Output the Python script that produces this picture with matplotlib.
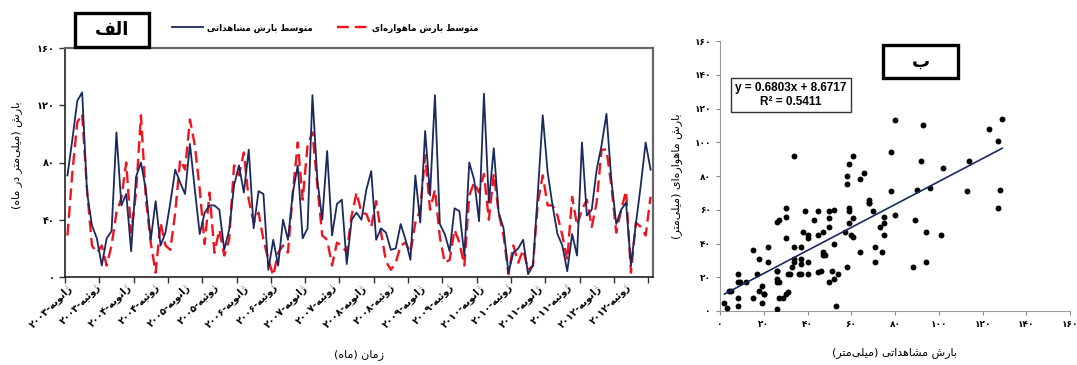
import re

import matplotlib
matplotlib.use("Agg")
import matplotlib.pyplot as plt
from matplotlib.lines import Line2D
from matplotlib.patches import Rectangle

# monthly mean precipitation, Jan 2003 .. Dec 2012 (one row per year)
OBSERVED = [
    71, 96, 123, 129, 59, 36, 27, 8, 27, 32, 101, 50,
    58, 18, 70, 80, 61, 26, 53, 22, 31, 52, 75, 66,
    58, 93, 61, 30, 45, 50, 50, 47, 19, 33, 64, 78,
    59, 89, 34, 60, 58, 5, 26, 8, 40, 26, 59, 78,
    27, 34, 127, 68, 40, 88, 29, 51, 54, 9, 40, 45,
    40, 61, 74, 26, 34, 31, 19, 20, 37, 26, 12, 71,
    38, 102, 57, 127, 37, 30, 18, 48, 46, 15, 80, 68,
    39, 128, 52, 90, 45, 34, 3, 17, 20, 26, 2, 8,
    59, 113, 73, 50, 30, 22, 4, 30, 15, 94, 43, 47,
    75, 92, 114, 68, 37, 47, 52, 8, 37, 64, 94, 75,
]
SATELLITE = [
    29, 73, 108, 114, 61, 22, 17, 22, 8, 22, 45, 55,
    80, 31, 59, 113, 55, 24, 3, 38, 22, 19, 45, 82,
    75, 110, 92, 61, 23, 59, 17, 33, 15, 26, 78, 71,
    87, 54, 38, 45, 26, 12, 1, 17, 22, 17, 59, 94,
    54, 92, 101, 64, 29, 26, 8, 24, 22, 17, 43, 59,
    45, 44, 35, 53, 31, 11, 5, 10, 22, 24, 17, 38,
    47, 85, 47, 61, 28, 10, 12, 33, 24, 8, 57, 66,
    59, 72, 40, 72, 45, 29, 2, 22, 10, 19, 5, 8,
    52, 71, 50, 50, 43, 29, 12, 56, 36, 47, 54, 35,
    52, 89, 89, 64, 31, 47, 60, 3, 38, 35, 29, 56,
]
YEARS = list(range(2003, 2013))
HALF_YEARS = ["ژانویه", "ژوئیه"]
SLOPE = 0.6803
INTERCEPT = 8.6717
R2 = 0.5411

BLUE = "#1b2a5e"
RED = "#f0141e"

# matplotlib has no Arabic shaping: pick presentation forms and lay out right to left by hand
FORMS = {
    "ا": (0xFE8D, 2), "ب": (0xFE8F, 4), "ت": (0xFE95, 4), "د": (0xFEA9, 2),
    "ر": (0xFEAD, 2), "ز": (0xFEAF, 2), "ژ": (0xFB8A, 2), "س": (0xFEB1, 4),
    "ش": (0xFEB5, 4), "ط": (0xFEC1, 4), "ف": (0xFED1, 4), "ل": (0xFEDD, 4),
    "م": (0xFEE1, 4), "ن": (0xFEE5, 4), "ه": (0xFEE9, 4), "و": (0xFEED, 2),
    "ئ": (0xFE89, 4), "ی": (0xFBFC, 4),
}


def fa(text):
    out = []
    for i, ch in enumerate(text):
        if ch not in FORMS:
            out.append("" if ch == "\u200c" else ch)
            continue
        base, n = FORMS[ch]
        prev = text[i - 1] if i > 0 else ""
        nxt = text[i + 1] if i + 1 < len(text) else ""
        join_prev = prev in FORMS and FORMS[prev][1] == 4
        join_next = n == 4 and nxt in FORMS
        off = 3 if (join_prev and join_next) else 1 if join_prev else 2 if join_next else 0
        out.append(chr(base + off))
    parts = re.findall(r"[0-9۰-۹.]+|[^0-9۰-۹.]", "".join(out))
    return "".join(reversed(parts)).translate(str.maketrans("()", ")("))


def fa_num(v):
    return str(v).translate(str.maketrans("0123456789", "۰۱۲۳۴۵۶۷۸۹"))


month_labels = [fa(f"{m}-{fa_num(y)}") for y in YEARS for m in HALF_YEARS]

plt.rcParams["font.family"] = ["DejaVu Sans"]
plt.rcParams["font.weight"] = "bold"

fig = plt.figure(figsize=(10.77, 3.65), dpi=100, facecolor="white")

# ---- panel الف: time series
ax = fig.add_axes([65 / 1077, 1 - 277 / 365, 588 / 1077, 229 / 365])
x = [i + 0.5 for i in range(len(OBSERVED))]
ax.plot(x, OBSERVED, color=BLUE, lw=1.3, zorder=3)
ax.plot(x, SATELLITE, color=RED, lw=1.7, dashes=(5, 2.5), zorder=2)
ax.set_xlim(0, len(OBSERVED))
ax.set_ylim(0, 160)
ax.set_yticks(range(0, 161, 40))
ax.set_yticklabels([fa_num(v) for v in range(0, 161, 40)], fontsize=7)
ax.set_xticks(range(0, len(OBSERVED), 7))
ax.set_xticklabels([])
ax.set_xticks([6 * k + 0.5 for k in range(len(month_labels))], minor=True)
ax.set_xticklabels(month_labels, minor=True, fontsize=7, rotation=45,
                   ha="right", va="top", rotation_mode="anchor")
ax.tick_params(axis="x", which="minor", length=0, pad=4)
ax.tick_params(axis="both", which="major", length=4, width=1, color="#333")
for side in ("top", "right"):
    ax.spines[side].set_color("#666")
    ax.spines[side].set_linewidth(1.6)
for side in ("left", "bottom"):
    ax.spines[side].set_color("#222")
    ax.spines[side].set_linewidth(1.2)
ax.set_ylabel(fa("بارش (میلی‌متر در ماه)"), fontsize=8, va="center")
ax.yaxis.set_label_coords(-0.082, 0.53)
ax.set_xlabel(fa("زمان (ماه)"), fontsize=8, va="center")
ax.xaxis.set_label_coords(0.5, -0.34)

handles = [Line2D([], [], color=BLUE, lw=1.3),
           Line2D([], [], color=RED, lw=1.7, dashes=(5, 2.5))]
fig.legend(handles, [fa("متوسط بارش مشاهداتی"), fa("متوسط بارش ماهواره‌ای")],
           loc="center", bbox_to_anchor=(325 / 1077, 1 - 28 / 365), ncol=2,
           frameon=False, fontsize=6.3, handlelength=3.6, handletextpad=0.4,
           columnspacing=2.8)

# ---- panel ب: scatter
bx = fig.add_axes([720 / 1077, 1 - 311 / 365, 350 / 1077, 270 / 365])
bx.scatter(OBSERVED, SATELLITE, s=18, color="black", zorder=3, linewidths=0)
fit_x = [min(OBSERVED), max(OBSERVED)]
bx.plot(fit_x, [SLOPE * v + INTERCEPT for v in fit_x], color=BLUE, lw=1.2, zorder=4)
bx.set_xlim(0, 160)
bx.set_ylim(0, 160)
ticks = list(range(0, 161, 20))
bx.set_xticks(ticks)
bx.set_yticks(ticks)
bx.set_xticklabels([fa_num(v) for v in ticks], fontsize=6.5)
bx.set_yticklabels([fa_num(v) for v in ticks], fontsize=6.5)
bx.tick_params(length=3, color="#888")
for side in ("top", "right"):
    bx.spines[side].set_visible(False)
for side in ("left", "bottom"):
    bx.spines[side].set_color("#999")
bx.set_ylabel(fa("بارش ماهواره‌ای (میلی‌متر)"), fontsize=8, va="center")
bx.yaxis.set_label_coords(-0.123, 0.5)
bx.set_xlabel(fa("بارش مشاهداتی (میلی‌متر)"), fontsize=8, va="center")
bx.xaxis.set_label_coords(0.5, -0.152)
bx.text(32.4, 128, f"y = {SLOPE}x + {INTERCEPT}\nR² = {R2}", family="Liberation Sans",
        fontsize=8.5, fontweight="bold", ha="center", va="center", linespacing=1.3,
        bbox=dict(boxstyle="square,pad=0.35", facecolor="white", edgecolor="#333", lw=1))

# ---- panel letters in thick boxes
for (x0, y0, x1, y1), label in (((75, 13, 149, 47), "الف"), ((883, 45, 958, 78), "ب")):
    fig.add_artist(Rectangle((x0 / 1077, 1 - y1 / 365), (x1 - x0) / 1077, (y1 - y0) / 365,
                             transform=fig.transFigure, facecolor="white",
                             edgecolor="black", lw=2.4, zorder=10))
    fig.text((x0 + x1) / 2 / 1077, 1 - (y0 + y1) / 2 / 365, fa(label), fontsize=13,
             fontweight="bold", ha="center", va="center", zorder=11)

fig.savefig("out.png", dpi=100, facecolor="white")
